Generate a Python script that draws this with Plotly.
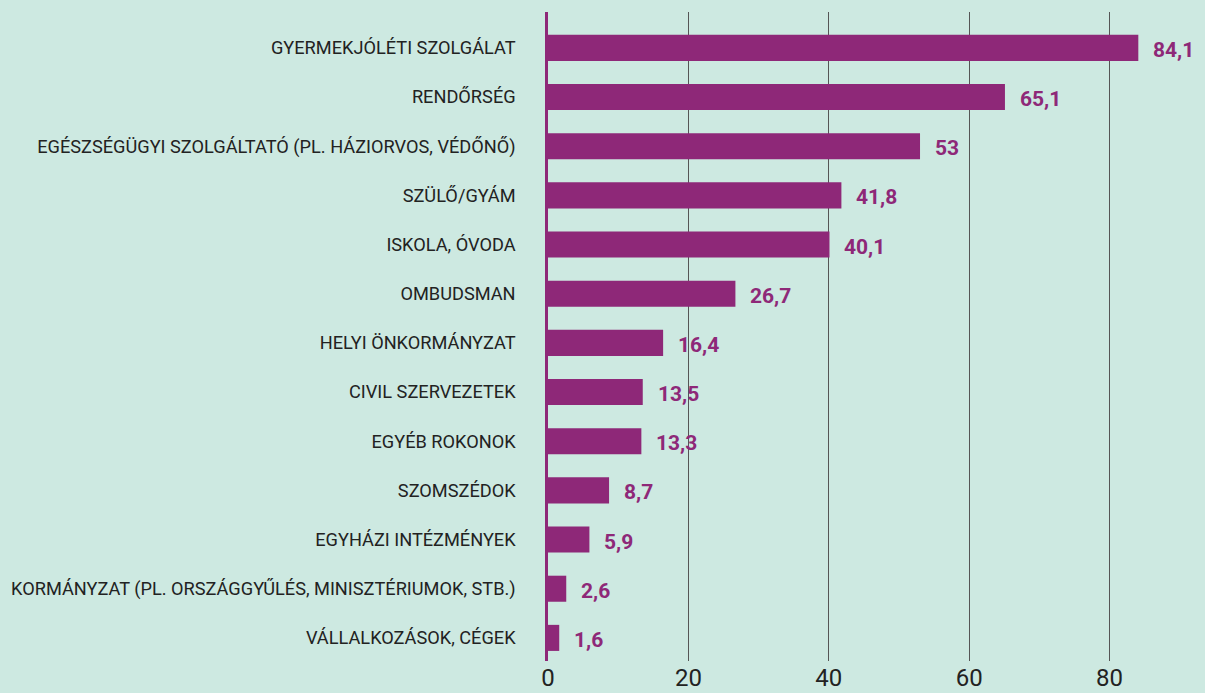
import plotly.graph_objects as go

categories = [
    "GYERMEKJÓLÉTI SZOLGÁLAT",
    "RENDŐRSÉG",
    "EGÉSZSÉGÜGYI SZOLGÁLTATÓ (PL. HÁZIORVOS, VÉDŐNŐ)",
    "SZÜLŐ/GYÁM",
    "ISKOLA, ÓVODA",
    "OMBUDSMAN",
    "HELYI ÖNKORMÁNYZAT",
    "CIVIL SZERVEZETEK",
    "EGYÉB ROKONOK",
    "SZOMSZÉDOK",
    "EGYHÁZI INTÉZMÉNYEK",
    "KORMÁNYZAT (PL. ORSZÁGGYŰLÉS, MINISZTÉRIUMOK, STB.)",
    "VÁLLALKOZÁSOK, CÉGEK",
]
values = [84.1, 65.1, 53, 41.8, 40.1, 26.7, 16.4, 13.5, 13.3, 8.7, 5.9, 2.6, 1.6]
value_labels = ["84,1", "65,1", "53", "41,8", "40,1", "26,7", "16,4", "13,5", "13,3", "8,7", "5,9", "2,6", "1,6"]
x_ticks = [0, 20, 40, 60, 80]

BG = "#cde9e1"
PURPLE = "#8e2878"

cats_r = categories[::-1]
vals_r = values[::-1]
labs_r = value_labels[::-1]

fig = go.Figure()
fig.add_trace(go.Bar(
    y=cats_r, x=vals_r, orientation="h",
    marker=dict(color=PURPLE, line=dict(width=0)),
    width=0.53,
    hoverinfo="skip",
))

for c, v, l in zip(cats_r, vals_r, labs_r):
    fig.add_annotation(
        x=v, y=c, text=l, showarrow=False, xanchor="left", yanchor="middle",
        xshift=13, yshift=-2,
        font=dict(family="Roboto", size=21, color=PURPLE, weight="bold"),
    )

fig.update_layout(
    width=1205, height=693,
    paper_bgcolor=BG, plot_bgcolor=BG,
    margin=dict(l=548, r=0, t=12, b=32),
    showlegend=False,
    font=dict(family="Roboto", color="#222"),
)
fig.update_xaxes(
    range=[0, 93.6],
    tickvals=x_ticks,
    showgrid=True, gridcolor="#555", gridwidth=1,
    zeroline=False, showline=False,
    tickfont=dict(size=24, color="#222"),
    ticks="", ticklabelstandoff=0,
    automargin=False,
)
fig.update_yaxes(
    type="category",
    categoryorder="array", categoryarray=cats_r,
    range=[-0.47, 12.73],
    showgrid=False, zeroline=False,
    showline=True, linecolor=PURPLE, linewidth=2.5,
    tickfont=dict(size=18.2, color="#222"),
    ticks="", ticklabelstandoff=26,
)

fig.write_html(
    "out.html",
    config={"displayModeBar": False},
    post_script="document.body.style.margin='0';document.body.style.overflow='hidden';",
)
